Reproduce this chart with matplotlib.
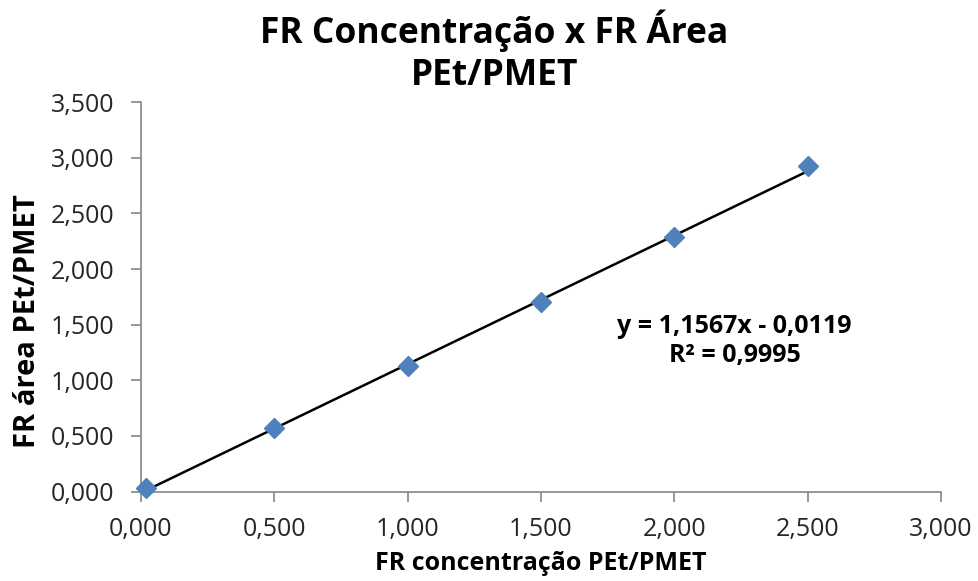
import matplotlib
matplotlib.use('Agg')
import matplotlib.pyplot as plt
import numpy as np

# data
fr_conc = [0.02, 0.5, 1.0, 1.5, 2.0, 2.5]
fr_area = [0.03, 0.57, 1.13, 1.70, 2.29, 2.93]
slope = 1.1567
intercept = -0.0119
r2 = 0.9995

x_ticks = [0.0, 0.5, 1.0, 1.5, 2.0, 2.5, 3.0]
y_ticks = [0.0, 0.5, 1.0, 1.5, 2.0, 2.5, 3.0, 3.5]


def fmt(v):
    return '{:.3f}'.format(v).replace('.', ',')


plt.rcParams['font.family'] = ['Open Sans', 'DejaVu Sans']

fig = plt.figure(figsize=(9.79, 5.81), dpi=100)
ax = fig.add_axes([0.144, 0.154, 0.817, 0.670])

xs = np.array([min(fr_conc), max(fr_conc)])
ax.plot(xs, slope * xs + intercept, color='black', lw=1.8, zorder=2)
ax.plot(fr_conc, fr_area, linestyle='none', marker='D', markersize=10.5,
        color='#4F81BD', zorder=3, clip_on=False)

ax.set_xlim(0, 3.0)
ax.set_ylim(0, 3.5)
ax.set_xticks(x_ticks)
ax.set_yticks(y_ticks)
ax.set_xticklabels([fmt(v) for v in x_ticks])
ax.set_yticklabels([fmt(v) for v in y_ticks])

for s in ['top', 'right']:
    ax.spines[s].set_visible(False)
for s in ['left', 'bottom']:
    ax.spines[s].set_color('#868686')
    ax.spines[s].set_linewidth(1.2)
ax.tick_params(direction='out', length=7, width=1.2, color='#868686',
               labelsize=18, labelcolor='#262626')
ax.tick_params(axis='y', pad=12)
ax.tick_params(axis='x', pad=11)

fig.text(541 / 979, 1 - 563 / 581, 'FR concentração PEt/PMET', ha='center', va='center',
         fontsize=18, fontweight='bold')
fig.text(28 / 979, 1 - 321 / 581, 'FR área PEt/PMET', ha='center', va='center',
         rotation=90, fontsize=21, fontweight='bold')

fig.text(0.505, 1 - 52 / 581, 'FR Concentração x FR Área\nPEt/PMET', ha='center', va='center',
         fontsize=25.5, fontweight='bold', linespacing=1.22)

eq = 'y = {}x - {}'.format(str(slope).replace('.', ','),
                           '{:.4f}'.format(-intercept).replace('.', ','))
ax.text(2.227, 1.355, eq + '\nR² = {}'.format(str(r2).replace('.', ',')),
        ha='center', va='center', fontsize=18, fontweight='bold', linespacing=1.2)

fig.savefig('out.png', dpi=100)
